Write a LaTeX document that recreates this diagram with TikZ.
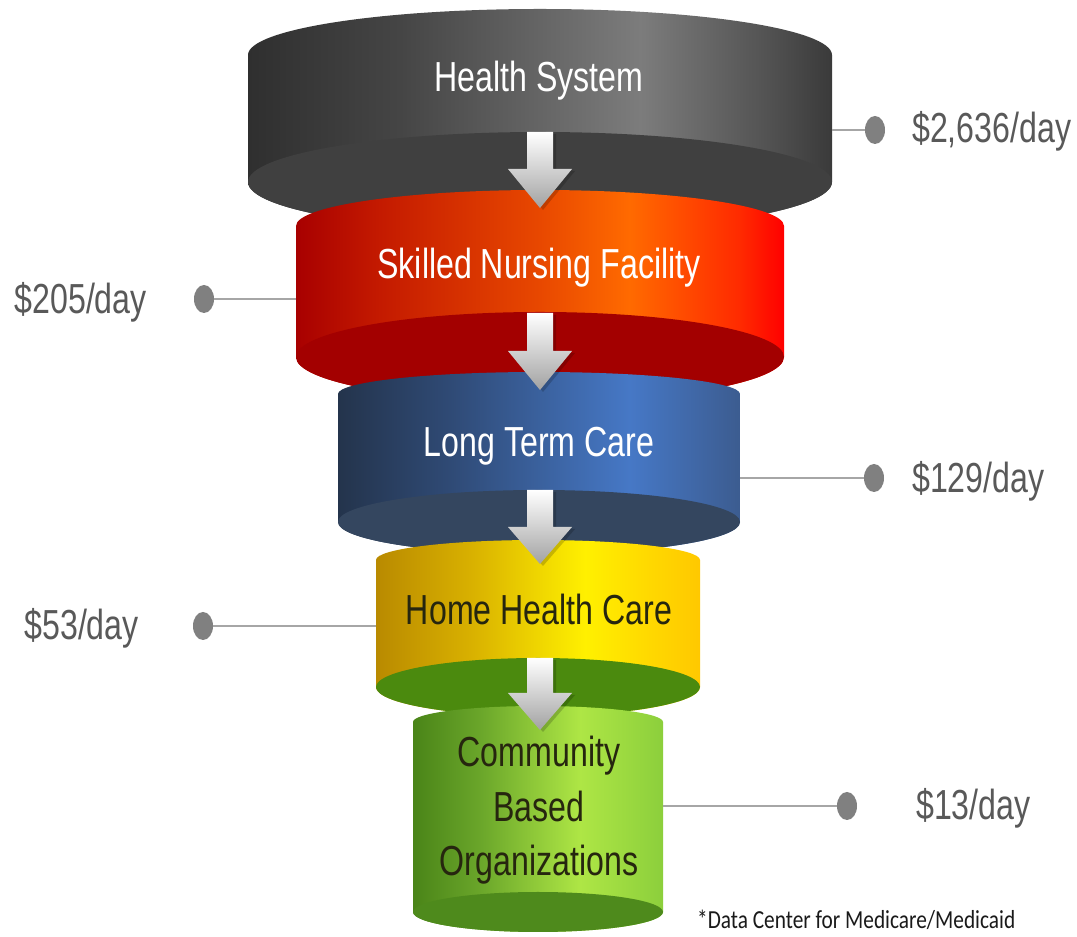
\documentclass[tikz,border=0pt]{standalone}
\usepackage{fontspec}
\setmainfont{Liberation Sans}[FakeStretch=0.765]
\newfontfamily\notefont{Carlito}[FakeStretch=0.82]
\usetikzlibrary{shapes.geometric}

\definecolor{ga}{HTML}{2F2F2F}\definecolor{gb}{HTML}{454545}\definecolor{gc}{HTML}{7C7C7C}
\definecolor{gd}{HTML}{555555}\definecolor{ge}{HTML}{3A3A3A}\definecolor{gbot}{HTML}{404040}
\definecolor{ra}{HTML}{A80000}\definecolor{rb}{HTML}{C41A00}\definecolor{rc}{HTML}{E84800}
\definecolor{rd}{HTML}{FF6A00}\definecolor{re}{HTML}{FF2A00}\definecolor{rf}{HTML}{FF0000}\definecolor{rbot}{HTML}{A30000}
\definecolor{ba}{HTML}{24344C}\definecolor{bb}{HTML}{2F4A75}\definecolor{bc}{HTML}{4678C6}
\definecolor{bd}{HTML}{3C5C90}\definecolor{bbot}{HTML}{34465F}
\definecolor{ya}{HTML}{B98A00}\definecolor{yb}{HTML}{D8B000}\definecolor{yc}{HTML}{FFF000}
\definecolor{yd}{HTML}{FFD800}\definecolor{ye}{HTML}{FFC800}\definecolor{ybot}{HTML}{4B8A0E}
\definecolor{lga}{HTML}{4A8418}\definecolor{lgb}{HTML}{6AA62A}\definecolor{lgc}{HTML}{AEE645}
\definecolor{lgd}{HTML}{8CCF3C}\definecolor{lgbot}{HTML}{4E8A1C}
\definecolor{pricegray}{HTML}{595959}\definecolor{dotgray}{HTML}{808080}
\definecolor{linegray}{HTML}{A6A6A6}\definecolor{textdark}{HTML}{26260F}
\definecolor{arrowgray}{HTML}{A2A2A2}\definecolor{notecol}{HTML}{1A1A1A}

\pgfdeclarehorizontalshading{grayside}{100bp}{color(0bp)=(ga); color(25bp)=(ga); color(38bp)=(gb); color(58.6bp)=(gc); color(68.8bp)=(gd); color(75bp)=(ge); color(100bp)=(ge)}
\pgfdeclarehorizontalshading{redside}{100bp}{color(0bp)=(ra); color(25bp)=(ra); color(33.6bp)=(rb); color(50bp)=(rc); color(59.2bp)=(rd); color(70.5bp)=(re); color(75bp)=(rf); color(100bp)=(rf)}
\pgfdeclarehorizontalshading{blueside}{100bp}{color(0bp)=(ba); color(25bp)=(ba); color(38.9bp)=(bb); color(61.3bp)=(bc); color(75bp)=(bd); color(100bp)=(bd)}
\pgfdeclarehorizontalshading{yellowside}{100bp}{color(0bp)=(ya); color(25bp)=(ya); color(39.5bp)=(yb); color(57.3bp)=(yc); color(67.3bp)=(yd); color(75bp)=(ye); color(100bp)=(ye)}
\pgfdeclarehorizontalshading{greenside}{100bp}{color(0bp)=(lga); color(25bp)=(lga); color(38.4bp)=(lgb); color(58.4bp)=(lgc); color(75bp)=(lgd); color(100bp)=(lgd)}

% #1 cx, #2 rx, #3 top rim y (px), #4 top ry, #5 bottom centre y (px), #6 bottom ry, #7 shading, #8 bottom colour
\newcommand{\drawcyl}[8]{%
  \pgfmathsetmacro\cyYt{937-#3}%
  \pgfmathsetmacro\cyYb{937-#5}%
  \pgfmathsetmacro\cyL{#1-#2}%
  \pgfmathsetmacro\cyR{#1+#2}%
  \shade[shading=#7] (\cyL,\cyYt) arc[start angle=180,end angle=0,x radius=#2pt,y radius=#4pt]
     -- (\cyR,\cyYb) arc[start angle=0,end angle=-180,x radius=#2pt,y radius=#6pt] -- cycle;
  \fill[#8] (#1,\cyYb) ellipse[x radius=#2pt,y radius=#6pt];
}
% #1 shaft top, #2 head base, #3 tip (px from top)
\newcommand{\flowarrow}[3]{%
  \fill[black,opacity=0.18] (530,935-#1) -- (556,935-#1) -- (556,935-#2) -- (575,935-#2)
     -- (543,935-#3) -- (511,935-#2) -- (530,935-#2) -- cycle;
  \shade[top color=white, bottom color=arrowgray] (527,937-#1) -- (553,937-#1) -- (553,937-#2)
     -- (572,937-#2) -- (540,937-#3) -- (508,937-#2) -- (527,937-#2) -- cycle;
}

\tikzset{
  cyltext/.style={font=\fontsize{42}{50}\selectfont, anchor=base, inner sep=0pt},
  whitetext/.style={cyltext, text=white},
  darktext/.style={cyltext, text=textdark},
  price/.style={font=\fontsize{42}{50}\selectfont, text=pricegray, inner sep=0pt},
  pricedot/.style={shape=ellipse, minimum width=20pt, minimum height=28pt, inner sep=0pt, fill=dotgray},
  link/.style={draw=linegray, line width=1.5pt},
}

\begin{document}
\begin{tikzpicture}[x=1pt,y=1pt]
\fill[white] (0,0) rectangle (1077,937);
\useasboundingbox (0,0) rectangle (1077,937);

% cylinders
\drawcyl{540}{292}{55}{46}{182}{50}{grayside}{gbot}
\drawcyl{540}{244}{226}{36}{357}{45}{redside}{rbot}
\drawcyl{539}{201}{394}{22}{522}{32}{blueside}{bbot}
\drawcyl{538}{162}{560}{20}{687}{29}{yellowside}{ybot}
\drawcyl{538}{125}{722}{16}{912}{20}{greenside}{lgbot}

% arrows
\flowarrow{132}{169}{208}
\flowarrow{313}{351}{390}
\flowarrow{490}{527}{564}
\flowarrow{658}{693}{730}

% cylinder labels
\node[whitetext] (hs) at (539,937-92) {Health System};
\node[whitetext] (snf) at (539,937-279) {Skilled Nursing Facility};
\node[whitetext] (ltc) at (539,937-457) {Long Term Care};
\node[darktext] (hhc) at (539,937-625) {Home Health Care};
\node[darktext] (cbo1) at (539,937-767) {Community};
\node[darktext] (cbo2) at (539,937-822) {Based};
\node[darktext] (cbo3) at (539,937-876) {Organizations};

% edges of cylinders
\coordinate (e1) at (832,937-130);
\coordinate (e2) at (296,937-299);
\coordinate (e3) at (740,937-478);
\coordinate (e4) at (376,937-626);
\coordinate (e5) at (663,937-806);

% dots
\node[pricedot] (d1) at (875,937-130) {};
\node[pricedot] (d2) at (204,937-299) {};
\node[pricedot] (d3) at (874,937-478) {};
\node[pricedot] (d4) at (203,937-626) {};
\node[pricedot] (d5) at (847,937-806) {};

\draw[link] (e1) -- (d1);
\draw[link] (e2) -- (d2);
\draw[link] (e3) -- (d3);
\draw[link] (e4) -- (d4);
\draw[link] (e5) -- (d5);

% prices
\node[price, anchor=base west] (p1) at (912,937-143) {\$2,636/day};
\node[price, anchor=base east] (p2) at (147,937-314) {\$205/day};
\node[price, anchor=base west] (p3) at (912,937-493) {\$129/day};
\node[price, anchor=base east] (p4) at (139,937-640) {\$53/day};
\node[price, anchor=base west] (p5) at (916,937-820) {\$13/day};

% footnote
\node[font=\notefont\fontsize{26}{30}\selectfont, text=notecol, anchor=base west, inner sep=0pt] (note) at (697,937-929) {*Data Center for Medicare/Medicaid};
\end{tikzpicture}
\end{document}
